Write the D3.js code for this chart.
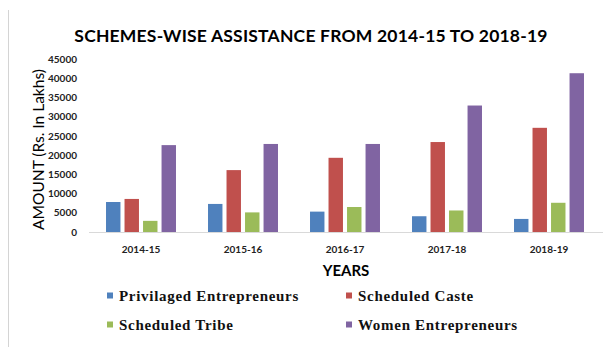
<!DOCTYPE html>
<html>
<head>
<meta charset="utf-8">
<script src="https://cdn.jsdelivr.net/npm/d3@7"></script>
<style>
  html, body { margin: 0; padding: 0; background: #fff; }
  svg { display: block; }
</style>
</head>
<body>
<svg id="chart" width="608" height="347"></svg>
<script>
// Scheme-wise assistance (Rs. in Lakhs), by year
const years = ["2014-15", "2015-16", "2016-17", "2017-18", "2018-19"];
const seriesNames = ["Privilaged Entrepreneurs", "Scheduled Caste", "Scheduled Tribe", "Women Entrepreneurs"];
const privilagedEntrepreneurs = [7800, 7300, 5300, 4100, 3400];
const scheduledCaste = [8600, 16100, 19300, 23400, 27100];
const scheduledTribe = [2900, 5100, 6500, 5600, 7600];
const womenEntrepreneurs = [22600, 22900, 22900, 32900, 41300];
const seriesColors = ["#4F81BD", "#C0504D", "#9BBB59", "#8064A2"];
const yTicks = [0, 5000, 10000, 15000, 20000, 25000, 30000, 35000, 40000, 45000];

const seriesValues = [privilagedEntrepreneurs, scheduledCaste, scheduledTribe, womenEntrepreneurs];
const rows = years.map((yr, i) => ({
  year: yr,
  values: seriesNames.map((s, k) => ({ series: s, value: seriesValues[k][i] }))
}));

const svg = d3.select("#chart");
const sansFont = "Lato, 'Open Sans', sans-serif";
const serifFont = "'Liberation Serif', 'DejaVu Serif', serif";

// page frame line on the left
svg.append("line")
  .attr("x1", 8.5).attr("x2", 8.5).attr("y1", 10).attr("y2", 347)
  .attr("stroke", "#d4d4d4").attr("stroke-width", 1);

const plot = { left: 90, right: 600, top: 59, bottom: 232 };

const x0 = d3.scaleBand()
  .domain(years)
  .range([plot.left, plot.right])
  .paddingInner(0.314)
  .paddingOuter(0.157);

const x1 = d3.scaleBand()
  .domain(seriesNames)
  .range([0, x0.bandwidth()])
  .paddingInner(0.22)
  .paddingOuter(0);

const y = d3.scaleLinear()
  .domain([0, 45000])
  .range([plot.bottom, plot.top]);

const color = d3.scaleOrdinal().domain(seriesNames).range(seriesColors);

// title
svg.append("text")
  .attr("x", 311).attr("y", 41.5)
  .attr("text-anchor", "middle")
  .attr("font-family", sansFont)
  .attr("font-size", 17.5)
  .attr("font-weight", 700)
  .attr("letter-spacing", 0.2)
  .attr("fill", "#000")
  .text("SCHEMES-WISE  ASSISTANCE FROM 2014-15 TO 2018-19");

// y axis (labels only)
const yAxis = d3.axisLeft(y).tickValues(yTicks).tickSize(0).tickPadding(0).tickFormat(d3.format("d"));
const yG = svg.append("g").attr("transform", `translate(${77},0)`).call(yAxis);
yG.select(".domain").remove();
yG.selectAll("text")
  .attr("font-family", sansFont)
  .attr("font-size", 10)
  .attr("font-weight", 700)
  .attr("fill", "#222");

// y axis title
svg.append("text")
  .attr("transform", `translate(44,${(62 + 237) / 2}) rotate(-90)`)
  .attr("text-anchor", "middle")
  .attr("font-family", sansFont)
  .attr("font-size", 15.5)
  .attr("font-weight", 400)
  .attr("fill", "#000")
  .text("AMOUNT (Rs. In Lakhs)");

// bars
const groups = svg.append("g").selectAll("g")
  .data(rows)
  .join("g")
  .attr("transform", d => `translate(${x0(d.year)},0)`);

groups.selectAll("rect")
  .data(d => d.values)
  .join("rect")
  .attr("x", d => x1(d.series))
  .attr("y", d => y(d.value))
  .attr("width", x1.bandwidth())
  .attr("height", d => y(0) - y(d.value))
  .attr("fill", d => color(d.series));

// x axis
const xAxis = d3.axisBottom(x0).tickSize(0).tickPadding(0);
const xG = svg.append("g").attr("transform", `translate(0,${plot.bottom})`).call(xAxis);
xG.select(".domain").remove();
xG.selectAll("text")
  .attr("dy", 21)
  .attr("font-family", sansFont)
  .attr("font-size", 10)
  .attr("font-weight", 700)
  .attr("fill", "#222");

svg.append("line")
  .attr("x1", 89).attr("x2", 603)
  .attr("y1", plot.bottom + 0.5).attr("y2", plot.bottom + 0.5)
  .attr("stroke", "#d9d9d9").attr("stroke-width", 1);

// x axis title
svg.append("text")
  .attr("x", 346).attr("y", 276)
  .attr("text-anchor", "middle")
  .attr("font-family", sansFont)
  .attr("font-size", 15)
  .attr("font-weight", 700)
  .attr("fill", "#000")
  .text("YEARS");

// legend
const legendPos = [[107, 301], [346, 301], [107, 330], [346, 330]];
const legend = svg.append("g").selectAll("g")
  .data(seriesNames)
  .join("g")
  .attr("transform", (d, i) => `translate(${legendPos[i][0]},${legendPos[i][1]})`);

legend.append("rect")
  .attr("x", 0).attr("y", -8.5)
  .attr("width", 6).attr("height", 6)
  .attr("fill", d => color(d));

legend.append("text")
  .attr("x", 12).attr("y", 0)
  .attr("font-family", serifFont)
  .attr("font-size", 15)
  .attr("font-weight", 700)
  .attr("letter-spacing", 0.7)
  .attr("fill", "#111")
  .text(d => d);
</script>
</body>
</html>
